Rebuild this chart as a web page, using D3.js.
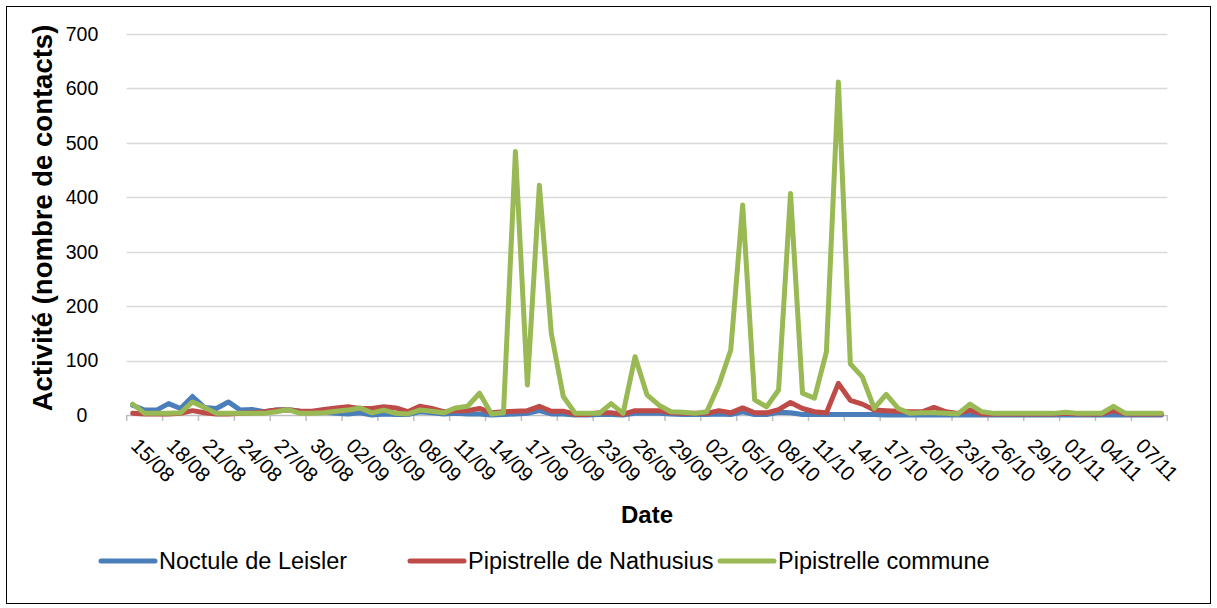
<!DOCTYPE html>
<html><head><meta charset="utf-8">
<script src="https://cdn.jsdelivr.net/npm/d3@7"></script>
<style>html,body{margin:0;padding:0;background:#fff;}svg{display:block;font-family:"Liberation Sans",Arial,sans-serif;}</style>
</head><body>
<svg id="c" width="1217" height="608"></svg>
<script>
const dates = ["15/08","16/08","17/08","18/08","19/08","20/08","21/08","22/08","23/08","24/08","25/08","26/08","27/08","28/08","29/08","30/08","31/08",
"01/09","02/09","03/09","04/09","05/09","06/09","07/09","08/09","09/09","10/09","11/09","12/09","13/09","14/09","15/09","16/09","17/09","18/09","19/09","20/09","21/09","22/09","23/09","24/09","25/09","26/09","27/09","28/09","29/09","30/09",
"01/10","02/10","03/10","04/10","05/10","06/10","07/10","08/10","09/10","10/10","11/10","12/10","13/10","14/10","15/10","16/10","17/10","18/10","19/10","20/10","21/10","22/10","23/10","24/10","25/10","26/10","27/10","28/10","29/10","30/10","31/10",
"01/11","02/11","03/11","04/11","05/11","06/11","07/11","08/11","09/11"];
const noctule = [18,9,9,21,12,34,14,12,24,9,10,6,9,10,7,6,5,3,2,4,0,2,1,1,6,4,2,3,2,2,0,1,2,3,8,2,2,0,0,1,1,0,3,3,3,2,1,1,1,2,1,6,1,1,5,4,1,1,1,1,1,1,1,0,0,0,0,0,0,0,0,0,0,0,0,0,0,0,0,0,0,0,0,0,0,0,0];
const nathusius = [3,2,2,2,3,8,4,2,2,3,4,6,9,9,7,7,10,13,15,12,12,15,13,6,16,12,6,8,8,12,4,6,7,8,16,7,7,1,1,4,4,1,8,8,8,4,3,3,3,8,4,13,4,4,10,23,12,6,4,58,27,20,9,8,7,6,6,14,6,3,9,2,2,2,2,2,2,2,3,2,2,2,8,2,2,2,2];
const commune = [20,3,3,3,4,24,14,3,3,3,3,3,6,10,3,3,4,7,9,13,4,9,3,2,9,7,4,13,16,40,2,4,484,55,422,150,34,3,3,3,21,3,107,37,18,6,5,3,6,55,119,386,28,15,46,407,40,31,116,612,94,70,12,38,12,3,4,4,3,2,20,6,3,3,3,3,3,3,5,3,3,3,16,3,3,3,3];
const seriesNames = ["Noctule de Leisler","Pipistrelle de Nathusius","Pipistrelle commune"];
const seriesColors = ["#4a7ebb","#be4b48","#98b954"];
const yTicks = [0,100,200,300,400,500,600,700];

const svg = d3.select("#c");
svg.append("rect").attr("x",6.5).attr("y",6.5).attr("width",1204).attr("height",597)
  .attr("fill","#fff").attr("stroke","#000").attr("stroke-width",1);

const x = d3.scaleBand().domain(dates).range([126.7,1167.3]).paddingInner(0).paddingOuter(0);
const y = d3.scaleLinear().domain([0,700]).range([415,34]);
const cx = d => x(d)+x.bandwidth()/2;

svg.append("g").selectAll("line").data(yTicks.filter(v=>v>0)).join("line")
  .attr("x1",126.7).attr("x2",1167.3).attr("y1",d=>Math.round(y(d))+0.5).attr("y2",d=>Math.round(y(d))+0.5)
  .attr("stroke","#d9d9d9").attr("stroke-width",1.5);

svg.append("g").selectAll("text").data(yTicks).join("text")
  .attr("x",82).attr("y",d=>y(d)).attr("dy","0.35em").attr("text-anchor","middle")
  .attr("font-size",19.5).attr("fill","#000").text(d=>d);

svg.append("line").attr("x1",126.7).attr("x2",1167.3).attr("y1",415.5).attr("y2",415.5).attr("stroke","#bfbfbf").attr("stroke-width",1.5);
const tickIdx = dates.map((d,i)=>i).filter(i=>i%3===0);
const tickXs = tickIdx.map(i=>x(dates[i])).concat([x.range()[1]]);
svg.append("g").selectAll("line").data(tickXs).join("line")
  .attr("x1",d=>d).attr("x2",d=>d).attr("y1",415).attr("y2",421).attr("stroke","#bfbfbf").attr("stroke-width",1.5);

svg.append("g").selectAll("text").data(tickIdx).join("text")
  .attr("transform",i=>`translate(${cx(dates[i])-3},447) rotate(45)`)
  .attr("font-size",20.5).attr("fill","#000").text(i=>dates[i]);

const line = d3.line().x((v,i)=>cx(dates[i])).y(v=>y(v)).curve(d3.curveLinear);
[noctule,nathusius,commune].forEach((s,k)=>{
  svg.append("path").datum(s).attr("d",line).attr("fill","none")
    .attr("stroke",seriesColors[k]).attr("stroke-width",5).attr("stroke-linejoin","round").attr("stroke-linecap","round");
});

svg.append("text").attr("transform","translate(52,218) rotate(-90)").attr("text-anchor","middle")
  .attr("font-size",27.5).attr("font-weight","bold").text("Activité (nombre de contacts)");
svg.append("text").attr("x",647).attr("y",523).attr("text-anchor","middle")
  .attr("font-size",24).attr("font-weight","bold").text("Date");

const legX = [101,410,720];
const lg = svg.append("g").selectAll("g").data(seriesNames).join("g");
lg.append("line").attr("x1",(d,i)=>legX[i]).attr("x2",(d,i)=>legX[i]+54).attr("y1",561).attr("y2",561)
  .attr("stroke",(d,i)=>seriesColors[i]).attr("stroke-width",5).attr("stroke-linecap","round");
lg.append("text").attr("x",(d,i)=>legX[i]+58).attr("y",569).attr("font-size",23.5).text(d=>d);
</script>
</body></html>
